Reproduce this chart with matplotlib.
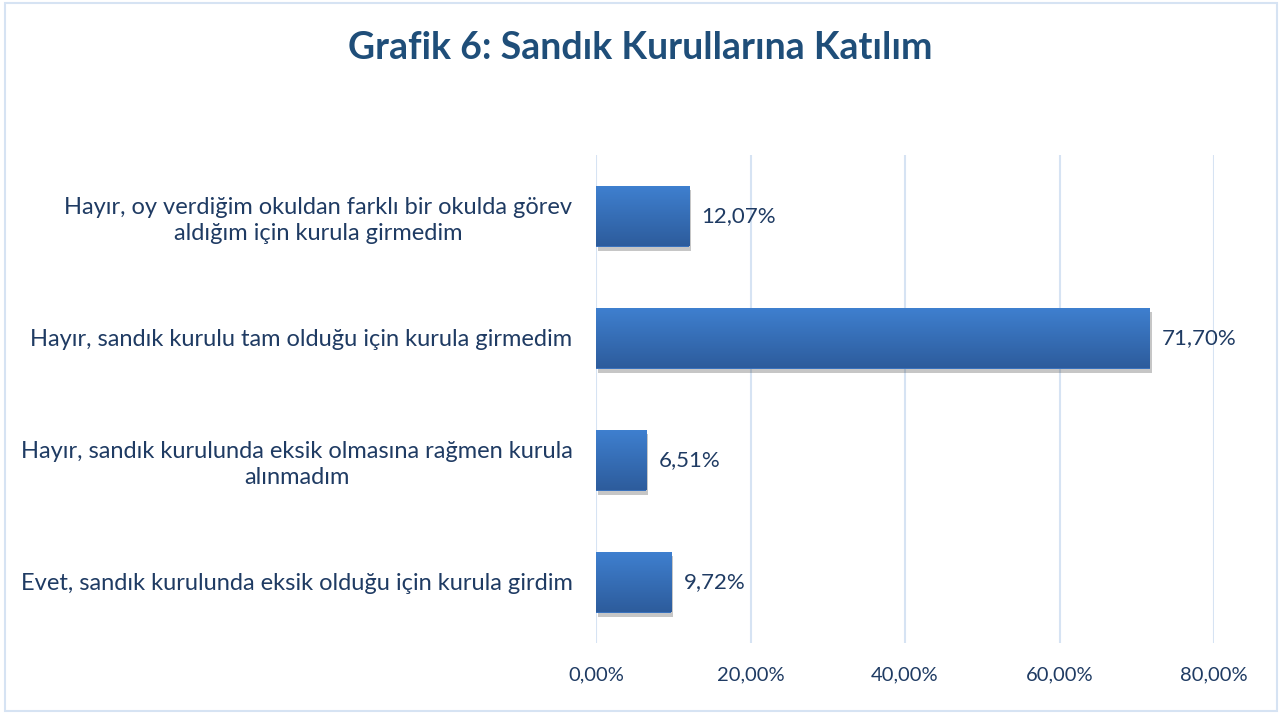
import matplotlib
matplotlib.use("Agg")
import matplotlib.pyplot as plt
import matplotlib.patheffects as pe
import numpy as np
from matplotlib.colors import LinearSegmentedColormap
from matplotlib.patches import Rectangle

title = "Grafik 6: Sandık Kurullarına Katılım"
categories = [
    "Hayır, oy verdiğim okuldan farklı bir okulda görev\naldığım için kurula girmedim",
    "Hayır, sandık kurulu tam olduğu için kurula girmedim",
    "Hayır, sandık kurulunda eksik olmasına rağmen kurula\nalınmadım",
    "Evet, sandık kurulunda eksik olduğu için kurula girdim",
]
values = [12.07, 71.70, 6.51, 9.72]
value_labels = ["12,07%", "71,70%", "6,51%", "9,72%"]
xticks = [0, 20, 40, 60, 80]
xtick_labels = ["0,00%", "20,00%", "40,00%", "60,00%", "80,00%"]

plt.rcParams['font.family'] = ['Lato', 'DejaVu Sans']
text_color = "#1F3B63"

fig = plt.figure(figsize=(12.82, 7.14), dpi=100)
fig.patches.append(Rectangle((0.004, 0.004), 0.992, 0.992, transform=fig.transFigure,
                             fill=False, edgecolor="#D6E3F3", linewidth=1.5))
ax = fig.add_axes([596/1282, 1 - 643/714, (1214-596)/1282, (643-155)/714])

y = np.arange(len(categories))
bars = ax.barh(y, values, height=0.5, color="#3A72BD", zorder=3,
               path_effects=[pe.SimplePatchShadow(offset=(1.5, -3), shadow_rgbFace="#444444", alpha=0.3), pe.Normal()])

cmap = LinearSegmentedColormap.from_list("g", ["#3F80D0", "#2D5C9C"])
grad = np.linspace(0, 1, 256).reshape(-1, 1)
for b in bars:
    x0, y0, w, h = b.get_x(), b.get_y(), b.get_width(), b.get_height()
    im = ax.imshow(grad, cmap=cmap, aspect='auto', extent=(x0, x0 + w, y0 + h, y0),
                   zorder=4, origin='upper')
    im.set_clip_path(b)

for b, lbl in zip(bars, value_labels):
    ax.text(b.get_width() + 1.6, b.get_y() + b.get_height()/2, lbl, va='center', ha='left',
            fontsize=16, color=text_color, zorder=5)

ax.set_xlim(0, 80)
ax.set_ylim(-0.5, len(categories) - 0.5)
ax.invert_yaxis()
ax.set_yticks(y)
ax.set_yticklabels(categories, fontsize=17, color=text_color)
for t in ax.get_yticklabels():
    t.set_multialignment('center')
    t.set_linespacing(1.3)
ax.set_xticks(xticks)
ax.set_xticklabels(xtick_labels, fontsize=14.5, color=text_color)
ax.tick_params(axis='both', length=0)
ax.tick_params(axis='y', pad=17)
ax.tick_params(axis='x', pad=17)
ax.grid(axis='x', color="#D6E3F3", linewidth=1.5, zorder=0)
ax.set_axisbelow(True)
for s in ax.spines.values():
    s.set_visible(False)

fig.text(640/1282, 1 - 48/714, title, ha='center', va='center', fontsize=27,
         fontweight='bold', color="#1F4E79")

fig.savefig("out.png", dpi=100)
